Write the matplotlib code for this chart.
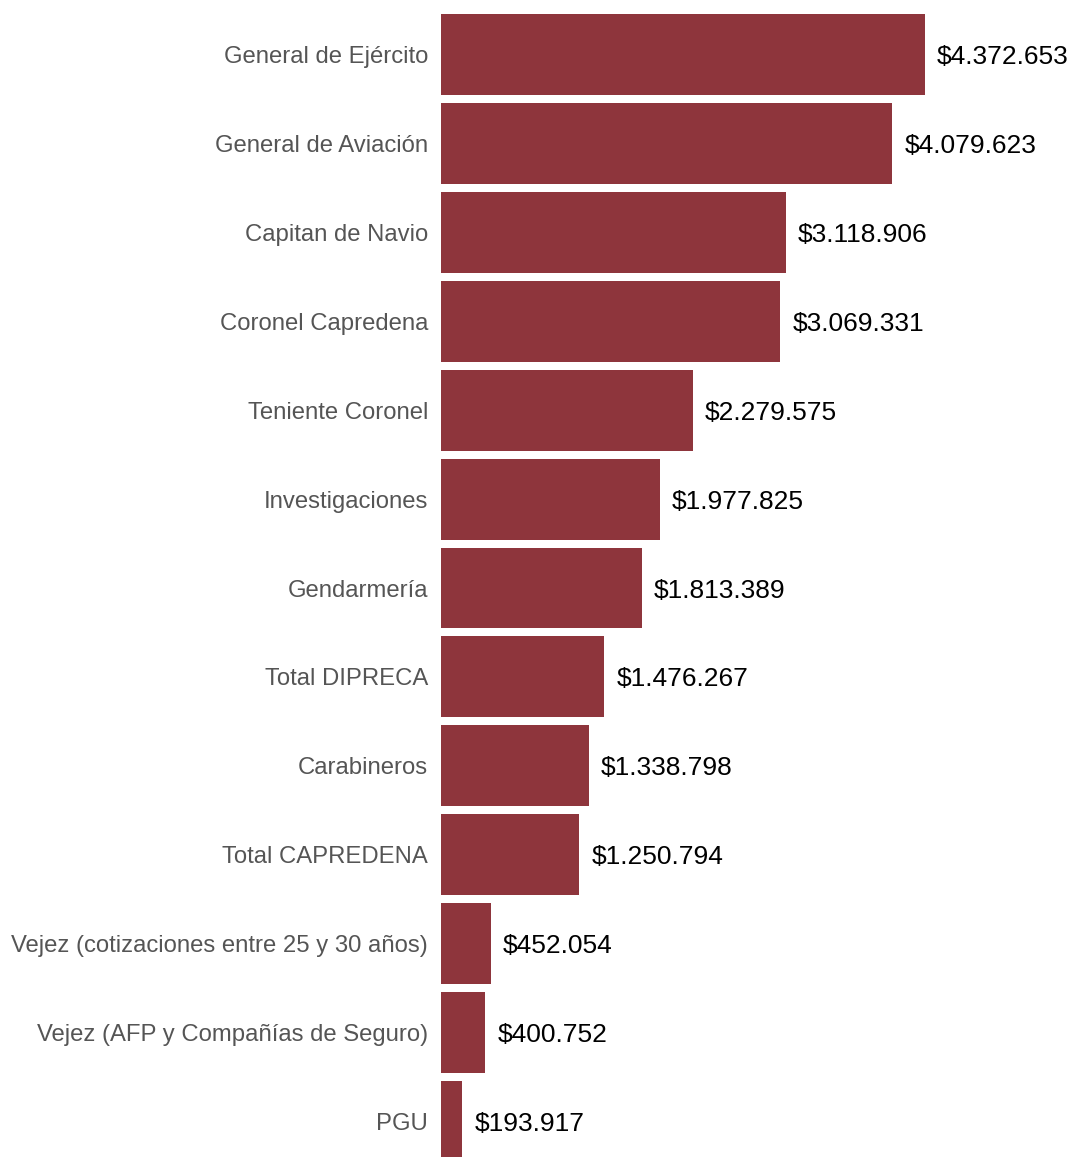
import matplotlib
matplotlib.use("Agg")
import matplotlib.pyplot as plt

categories = [
    "General de Ejército",
    "General de Aviación",
    "Capitan de Navio",
    "Coronel Capredena",
    "Teniente Coronel",
    "Investigaciones",
    "Gendarmería",
    "Total DIPRECA",
    "Carabineros",
    "Total CAPREDENA",
    "Vejez (cotizaciones entre 25 y 30 años)",
    "Vejez (AFP y Compañías de Seguro)",
    "PGU",
]
values = [4372653, 4079623, 3118906, 3069331, 2279575, 1977825, 1813389,
          1476267, 1338798, 1250794, 452054, 400752, 193917]

BAR_COLOR = "#8e353c"
W, H = 1073, 1157


def fmt(v):
    return "$" + f"{v:,}".replace(",", ".")


plt.rcParams["font.family"] = ["Liberation Sans", "DejaVu Sans"]

fig = plt.figure(figsize=(W / 100, H / 100), dpi=100)
left = 441 / W
ax = fig.add_axes([left, 0, 1 - left, 1])

ypos = list(range(len(categories)))
ax.barh(ypos, values, height=0.91, color=BAR_COLOR)

px_per_unit = 110.6e-6
ax.set_xlim(0, (W - 441) / px_per_unit)
ax.set_ylim(12.399, -0.613)

for y, v in zip(ypos, values):
    ax.text(v + 12 / px_per_unit, y, fmt(v), va="center_baseline", ha="left",
            fontsize=19, color="black")

ax.set_yticks(ypos)
ax.set_yticklabels(categories, fontsize=17.2, color="#555555",
                   va="center_baseline")
ax.tick_params(axis="y", length=0, pad=9.4)
ax.set_xticks([])
for s in ax.spines.values():
    s.set_visible(False)

fig.savefig("out.png", dpi=100)
